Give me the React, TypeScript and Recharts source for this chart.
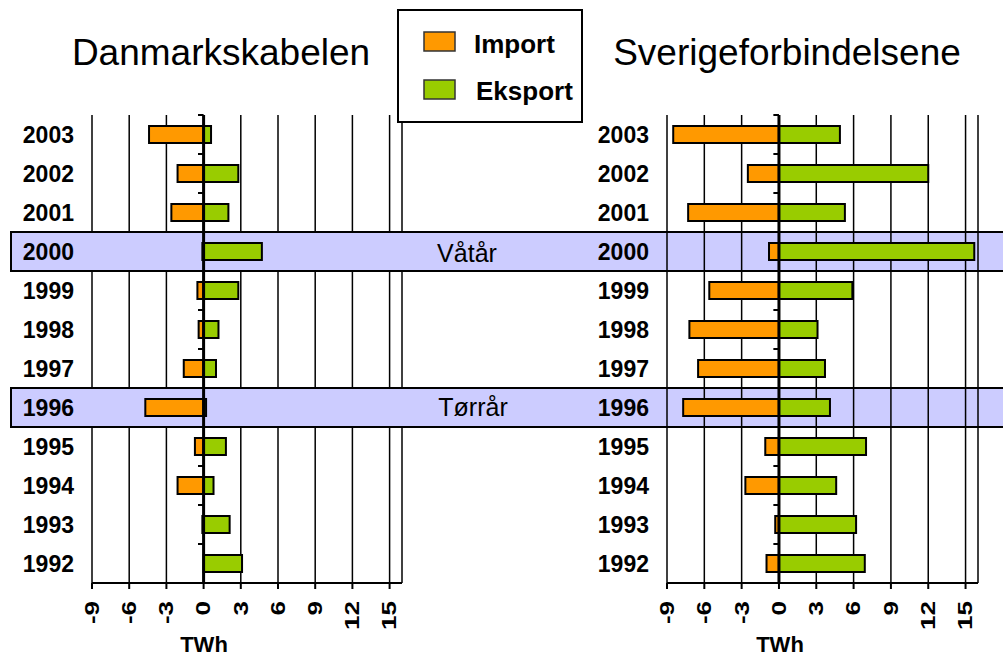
import React from 'react';
import { BarChart, Bar, XAxis, YAxis, CartesianGrid, ReferenceLine, ReferenceArea } from 'recharts';

const years = ['2003', '2002', '2001', '2000', '1999', '1998', '1997', '1996', '1995', '1994', '1993', '1992'];
const dkImport = [-4.4, -2.1, -2.6, -0.1, -0.5, -0.4, -1.6, -4.7, -0.7, -2.1, -0.1, 0];
const dkExport = [0.6, 2.8, 2.0, 4.7, 2.8, 1.2, 1.0, 0.2, 1.8, 0.8, 2.1, 3.1];
const seImport = [-8.5, -2.5, -7.3, -0.8, -5.6, -7.2, -6.5, -7.7, -1.1, -2.7, -0.3, -1.0];
const seExport = [4.9, 12.0, 5.3, 15.7, 5.9, 3.1, 3.7, 4.1, 7.0, 4.6, 6.2, 6.9];
const xTicks = [-9, -6, -3, 0, 3, 6, 9, 12, 15];
const highlighted = [
  { year: '2000', label: 'Våtår' },
  { year: '1996', label: 'Tørrår' },
];

const FONT = '"Liberation Sans", Arial, sans-serif';
const ORANGE = '#FF9900';
const GREEN = '#99CC00';
const W = 1003;
const H = 657;

const dkData = years.map((year, i) => ({ year, imp: dkImport[i], exp: dkExport[i] }));
const seData = years.map((year, i) => ({ year, imp: seImport[i], exp: seExport[i] }));

const YearTick = (props: any) => {
  const { x, y, payload } = props;
  return (
    <text x={x} y={y} textAnchor="end" dominantBaseline="central" fontSize={23} fontWeight="bold" fontFamily={FONT} fill="#000">
      {payload.value}
    </text>
  );
};

const ValueTick = (props: any) => {
  const { x, y, payload } = props;
  return (
    <g transform={`translate(${x},${y + 10})`}>
      <text transform="rotate(-90) scale(1.3,1)" textAnchor="end" dominantBaseline="central" fontSize={20} fontWeight="bold" fontFamily={FONT} fill="#000">
        {payload.value}
      </text>
    </g>
  );
};

// band stretches across the whole picture, not only the plot
const WideBand = (props: any) => {
  const left = props.x - 81;
  return <rect x={left} y={props.y} width={W + 2 - left} height={props.height} fill="#CCCCFF" stroke="#000" strokeWidth={2} />;
};

function Panel({ data, left, right, bands }: { data: any[]; left: number; right: number; bands?: boolean }) {
  return (
    <BarChart
      width={W}
      height={H}
      data={data}
      layout="vertical"
      stackOffset="sign"
      margin={{ top: 115, right, bottom: 14, left }}
    >
      {bands && highlighted.map((h) => (
        <ReferenceArea key={h.year} y1={h.year} y2={h.year} shape={<WideBand />} ifOverflow="visible" />
      ))}
      <CartesianGrid horizontal={false} vertical stroke="#000" strokeWidth={1.5} />
      <XAxis
        type="number"
        domain={[-9, 16]}
        ticks={xTicks}
        interval={0}
        allowDataOverflow
        height={60}
        axisLine={{ stroke: '#000', strokeWidth: 2 }}
        tickLine={{ stroke: '#000', strokeWidth: 2 }}
        tickSize={6}
        tick={<ValueTick />}
      />
      <YAxis
        type="category"
        dataKey="year"
        width={80}
        axisLine={false}
        tickLine={false}
        tickSize={0}
        tickMargin={18}
        interval={0}
        tick={<YearTick />}
      />
      <Bar dataKey="imp" name="Import" stackId="a" fill={ORANGE} stroke="#000" strokeWidth={2} barSize={17} isAnimationActive={false} />
      <Bar dataKey="exp" name="Eksport" stackId="a" fill={GREEN} stroke="#000" strokeWidth={2} barSize={17} isAnimationActive={false} />
      <ReferenceLine x={0} stroke="#000" strokeWidth={3} />
      {years.map((yr) => (
        <ReferenceLine key={yr} segment={[{ x: -0.45, y: yr }, { x: 0, y: yr }]} position="start" stroke="#000" strokeWidth={2} />
      ))}
    </BarChart>
  );
}

export default function App() {
  const abs: React.CSSProperties = { position: 'absolute', left: 0, top: 0 };
  return (
    <div style={{ position: 'absolute', left: 0, top: 0, width: W, height: H, background: '#fff', fontFamily: FONT }}>
      <div style={abs}>
        <Panel data={dkData} left={12} right={601} bands />
      </div>
      <div style={abs}>
        <Panel data={seData} left={587} right={25} />
      </div>
      <svg width={W} height={H} style={{ ...abs, pointerEvents: 'none' }}>
        <g fontFamily={FONT} fill="#000">
          <text x={221} y={65} textAnchor="middle" fontSize={37}>Danmarkskabelen</text>
          <text x={787} y={65} textAnchor="middle" fontSize={37}>Sverigeforbindelsene</text>
          <text x={467} y={262} textAnchor="middle" fontSize={25}>{highlighted[0].label}</text>
          <text x={473} y={416} textAnchor="middle" fontSize={25}>{highlighted[1].label}</text>
          <text x={204} y={652} textAnchor="middle" fontSize={22} fontWeight="bold">TWh</text>
          <text x={780} y={652} textAnchor="middle" fontSize={22} fontWeight="bold">TWh</text>
        </g>
        <rect x={398} y={10} width={184} height={112} fill="#fff" stroke="#000" strokeWidth={2} />
        <rect x={424} y={32} width={31} height={19} fill={ORANGE} stroke="#333" strokeWidth={1.5} />
        <rect x={424} y={80} width={31} height={19} fill={GREEN} stroke="#333" strokeWidth={1.5} />
        <text x={474} y={53} fontSize={26} fontWeight="bold" fontFamily={FONT}>Import</text>
        <text x={476} y={100} fontSize={26} fontWeight="bold" fontFamily={FONT}>Eksport</text>
      </svg>
    </div>
  );
}
